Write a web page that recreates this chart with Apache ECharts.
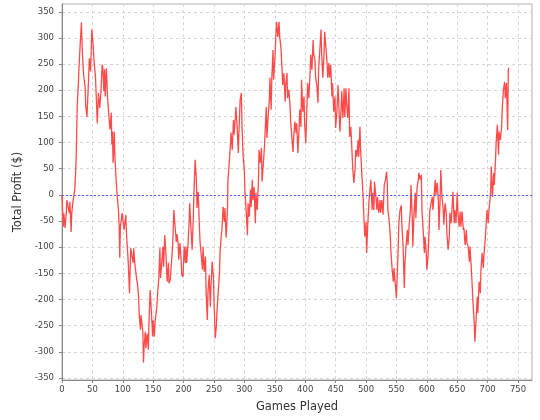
<!DOCTYPE html>
<html>
<head>
<meta charset="utf-8">
<script src="https://cdn.jsdelivr.net/npm/echarts@6/dist/echarts.min.js"></script>
<style>
html,body{margin:0;padding:0;background:#fff;}
#chart{width:540px;height:420px;}
</style>
</head>
<body>
<div id="chart"></div>
<script>
// Games played (x values of the cumulative profit trace)
var games = [
0,2,3,5,7,8,10,12,13,15,
16,18,20,21,23,24,25,27,28,30,
32,33,35,36,38,39,41,42,43,45,
47,49,50,51,53,55,56,58,60,62,
64,66,67,69,70,71,73,75,77,79,
81,82,83,84,86,87,89,91,93,94,
95,96,99,101,102,105,106,109,111,113,
116,117,118,120,123,124,126,127,129,130,
133,134,135,137,138,140,142,143,145,146,
148,149,150,152,153,156,157,159,161,162,
164,166,167,169,171,173,175,176,178,180,
182,184,186,188,189,191,192,194,196,197,
199,201,203,204,205,207,209,210,212,214,
216,217,219,221,222,224,226,227,229,231,
232,234,236,237,239,240,242,244,245,247,
249,250,252,254,255,257,259,260,262,263,
265,267,268,270,272,273,275,277,278,280,
282,283,285,286,288,290,291,293,295,296,
298,300,301,303,305,306,308,310,311,313,
314,316,318,319,321,323,324,326,328,329,
331,333,334,336,337,339,341,342,344,345,
347,348,350,352,353,355,357,358,360,362,
363,365,367,368,370,371,373,375,376,378,
380,381,383,385,386,388,390,391,393,394,
396,398,399,401,403,404,406,408,409,411,
413,414,416,417,419,421,422,424,426,427,
429,431,432,434,436,437,439,440,442,444,
445,447,449,450,452,454,455,457,459,460,
462,464,465,467,468,470,472,473,475,477,
478,480,482,483,485,487,488,490,491,493,
495,496,498,500,501,503,505,506,508,510,
511,513,514,516,518,519,521,523,524,526,
528,530,532,534,535,536,538,540,541,543,
545,546,548,550,551,553,554,556,558,559,
561,563,564,566,568,569,571,573,574,576,
577,579,581,582,584,586,587,589,591,592,
594,596,597,599,600,602,604,605,607,609,
610,612,614,615,617,619,620,622,623,625,
627,628,630,632,633,635,637,638,640,642,
643,645,646,648,650,651,653,655,656,658,
660,661,663,665,666,668,670,671,673,674,
676,678,679,681,683,684,686,688,689,691,
693,694,696,697,699,701,702,705,706,708,
710,711,713,714,716,718,719,721,723,724,
726,728,729,731,733,734,735
];
// Total profit ($)
var profit = [
0,-61,-35,-63,-35,-10,-13,-35,-13,-71,
-35,-13,-10,10,60,105,170,215,245,290,
330,285,239,225,207,170,149,175,201,261,
236,316,319,290,252,226,198,137,195,166,
195,249,245,198,240,188,242,185,153,125,
157,96,121,61,121,73,29,-4,-32,-61,
-120,-61,-35,-38,-67,-38,-73,-130,-188,-102,
-105,-130,-102,-134,-163,-169,-195,-230,-258,-230,
-262,-321,-290,-262,-293,-265,-296,-245,-182,-201,
-245,-271,-240,-271,-243,-214,-191,-163,-102,-159,
-130,-99,-138,-77,-115,-166,-130,-169,-163,-130,
-96,-29,-61,-90,-75,-92,-124,-92,-124,-153,
-157,-99,-130,-99,-130,-99,-54,-16,-61,-105,
-42,4,67,29,-25,6,-61,-89,-115,-143,
-99,-147,-118,-185,-239,-188,-153,-214,-176,-128,
-157,-201,-274,-249,-220,-185,-150,-109,-77,-67,
-23,-52,-25,-82,-33,29,61,96,119,86,
143,115,147,168,130,80,119,182,195,130,
73,44,4,-34,-77,-16,-42,10,-23,29,
-10,15,-54,4,-29,23,86,61,90,25,
57,92,119,168,109,149,182,224,163,220,
277,220,258,310,331,302,331,302,283,239,
210,233,178,210,233,185,201,172,143,111,
82,111,140,118,137,80,130,163,130,220,
159,188,137,99,176,214,185,233,268,239,
296,268,258,226,210,176,239,277,316,271,
224,271,312,283,252,224,252,224,249,188,
214,159,188,128,157,210,182,121,163,198,
147,204,149,204,176,147,204,111,130,82,
54,23,48,86,73,105,73,130,90,42,
4,-29,-80,-52,-111,-54,-10,4,29,-29,
4,-29,25,0,-29,-4,-34,-10,-34,-10,
-38,19,29,44,20,-29,-48,-80,-109,-143,
-166,-140,-169,-197,-163,-99,-54,-29,-20,-57,
-99,-178,-130,-96,-67,-96,-57,-29,19,-42,
-99,-34,4,-44,15,29,42,29,38,-29,
-67,-111,-80,-109,-143,-118,-61,-29,-32,-4,
-29,0,29,0,23,-10,-67,-4,48,-4,
-29,-57,-16,-34,-73,-105,-80,-34,-54,-16,
6,-54,-29,-54,4,-29,-61,-32,-61,-32,
-67,-63,-96,-67,-92,-99,-128,-99,-138,-159,
-207,-245,-281,-239,-195,-226,-166,-188,-143,-111,
-140,-115,-86,-67,-29,-54,-32,4,54,-4,
42,19,67,99,134,77,121,105,130,163,
201,216,185,214,124,239,243
];
var xTitle = 'Games Played';
var yTitle = 'Total Profit ($)';
var xRange = [0, 773];
var yRange = [-354, 365];

var seriesData = games.map(function (g, i) { return [g, profit[i]]; });

var chart = echarts.init(document.getElementById('chart'), null, {renderer: 'canvas'});
var font = 'DejaVu Sans';
var gridLine = {show: true, lineStyle: {color: '#d6d6d6', type: [3, 3], width: 1}};
chart.setOption({
  backgroundColor: '#ffffff',
  animation: false,
  grid: {left: 62, right: 8, top: 4, bottom: 40, show: true, borderColor: '#b0b0b0', borderWidth: 1, backgroundColor: '#ffffff', containLabel: false},
  xAxis: {
    type: 'value', min: xRange[0], max: xRange[1], splitNumber: 15,
    name: xTitle, nameLocation: 'middle', nameGap: 21,
    nameTextStyle: {fontFamily: font, fontSize: 11.5, color: '#333'},
    axisLine: {show: true, onZero: false, lineStyle: {color: '#888', width: 1}},
    axisTick: {show: true, length: 3, lineStyle: {color: '#888'}},
    axisLabel: {fontFamily: font, fontSize: 8.5, color: '#444', margin: 5, showMaxLabel: false},
    splitLine: gridLine
  },
  yAxis: {
    type: 'value', min: yRange[0], max: yRange[1], splitNumber: 14,
    name: yTitle, nameLocation: 'middle', nameGap: 32, nameRotate: 90,
    nameTextStyle: {fontFamily: font, fontSize: 11.5, color: '#333'},
    axisLine: {show: true, onZero: false, lineStyle: {color: '#888', width: 1}},
    axisTick: {show: true, length: 3, lineStyle: {color: '#888'}},
    axisLabel: {fontFamily: font, fontSize: 8.5, color: '#444', margin: 8, showMinLabel: false, showMaxLabel: false},
    splitLine: gridLine
  },
  series: [{
    type: 'line', data: seriesData, showSymbol: false, symbol: 'none',
    lineStyle: {color: '#ff4a4a', width: 1.3},
    clip: true,
    markLine: {
      silent: true, symbol: 'none', label: {show: false},
      lineStyle: {color: '#5a5aff', type: [2, 2], width: 1},
      data: [{yAxis: 0}]
    }
  }]
});
</script>
</body>
</html>
